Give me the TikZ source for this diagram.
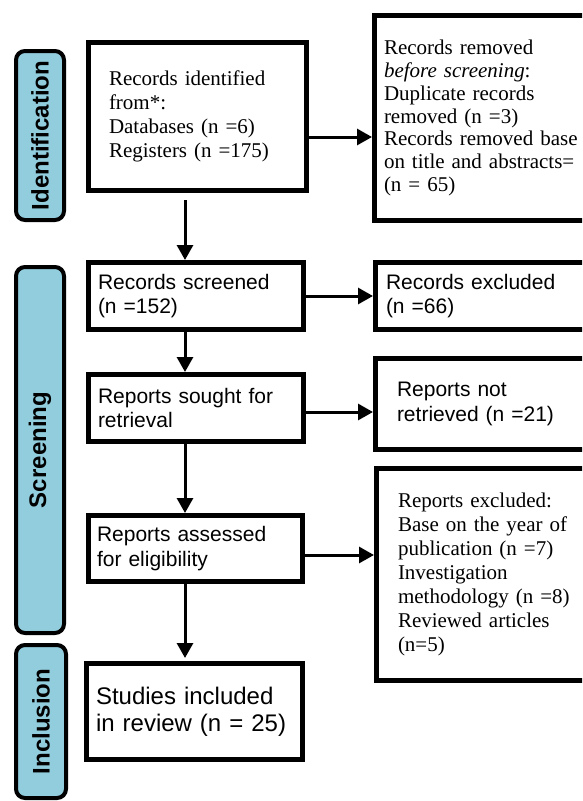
\documentclass[tikz,border=0pt]{standalone}
\usepackage{fontspec}
\setmainfont{Liberation Serif}
\setsansfont{Liberation Sans}
\usetikzlibrary{arrows.meta}
\definecolor{phasec}{RGB}{146,205,221}
\begin{document}
\begin{tikzpicture}[x=1pt,y=-1pt,
  box/.style={draw, line width=5pt, rectangle, inner ysep=0pt, align=left},
  phase/.style={draw, line width=4pt, fill=phasec, rounded corners=9pt, rotate=90,
    font=\sffamily\bfseries\fontsize{24}{28}\selectfont, inner sep=0pt},
  arr/.style={line width=3pt, -{Triangle[length=15pt,width=16pt]}},
  serifA/.style={font=\rmfamily\fontsize{21}{24}\selectfont},
  serifB/.style={font=\rmfamily\fontsize{21}{22.7}\selectfont},
  sansA/.style={font=\sffamily\fontsize{21}{24.5}\selectfont},
  sansB/.style={font=\sffamily\fontsize{24}{27}\selectfont}]
\path[use as bounding box, clip] (0,0) rectangle (582,801);

% phase labels
\node[phase, minimum width=169pt, minimum height=48pt] (pid) at (40,135.5) {Identification};
\node[phase, minimum width=366pt, minimum height=48pt] (psc) at (40,450) {Screening};
\node[phase, minimum width=153pt, minimum height=50pt] (pin) at (41,721.5) {Inclusion};

% left column
\node[box, serifA, minimum width=218pt, minimum height=148pt, inner xsep=20.5pt, text width=177pt]
  (ident) at (197.5,116.5) {\makebox[161pt][s]{Records identified}\\from*:\\Databases (n =6)\\Registers (n =175)};
\node[box, sansA, minimum width=215pt, minimum height=67pt, inner xsep=9.5pt, text width=196pt]
  (scr) at (196,296) {Records screened\\(n =152)};
\node[box, sansA, minimum width=215pt, minimum height=67pt, inner xsep=9.5pt, text width=196pt]
  (sought) at (196,408) {Reports sought for\\retrieval};
\node[box, sansA, minimum width=214pt, minimum height=66pt, inner xsep=8.5pt, text width=197pt]
  (assess) at (195.5,548.5) {Reports assessed\\for eligibility};
\node[box, sansB, minimum width=216pt, minimum height=96pt, inner xsep=9.5pt, text width=197pt]
  (incl) at (194.5,711.5) {Studies included\\in review (n = 25)};

% right column
\node[box, serifB, minimum width=218pt, minimum height=205pt, inner xsep=9.5pt, text width=199pt]
  (rem) at (483.5,118) {Records removed\\\textit{before screening}:\\Duplicate records\\removed (n =3)\\Records removed base\\on title and abstracts=\\(n = 65)};
\node[box, sansA, minimum width=217pt, minimum height=67pt, inner xsep=10.5pt, text width=196pt]
  (exc) at (484,296) {Records excluded\\(n =66)};
\node[box, sansA, minimum width=217pt, minimum height=91pt, inner xsep=21.5pt, text width=174pt]
  (notret) at (484,404) {Reports not\\retrieved (n =21)};
\node[box, serifA, minimum width=216pt, minimum height=212pt, inner xsep=21.5pt, text width=173pt]
  (excl) at (484.5,574.5) {Reports excluded:\\\makebox[175pt][s]{Base on the year of}\\publication (n =7)\\Investigation\\methodology (n =8)\\Reviewed articles\\(n=5)};

% connectors
\coordinate (ax) at (185,0);
\draw[arr] ([yshift=-7pt]ident.south -| ax) -- (scr.north -| ax);
\draw[arr] (scr.south -| ax) -- (sought.north -| ax);
\draw[arr] (sought.south -| ax) -- (assess.north -| ax);
\draw[arr] (assess.south -| ax) -- ([yshift=3pt]incl.north -| ax);

\draw[arr] ([yshift=-20.5pt]ident.east) -- ([yshift=-20.5pt]ident.east -| rem.west);
\draw[arr] (scr.east) -- (exc.west);
\draw[arr] ([yshift=-4pt]sought.east) -- ([yshift=-4pt]sought.east -| notret.west);
\draw[arr] ([yshift=-6.5pt]assess.east) -- ([yshift=-6.5pt]assess.east -| excl.west);
\end{tikzpicture}
\end{document}
